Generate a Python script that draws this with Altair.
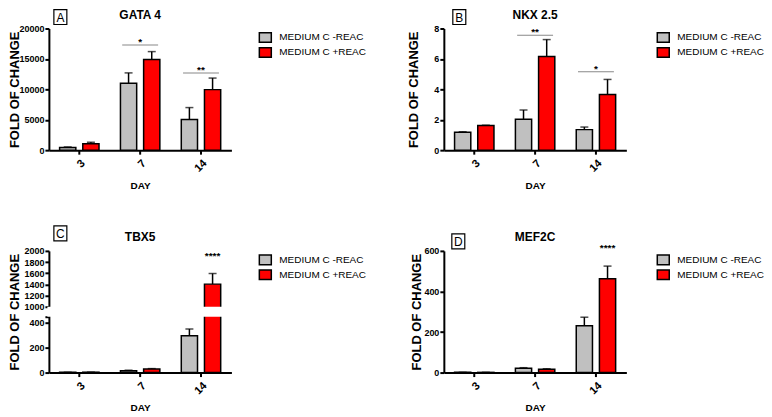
import pandas as pd
import altair as alt

GRAY = "#C0C0C0"
RED = "#FF0000"
INK = "#000000"
SIG = "#555555"
FONT = "Liberation Sans"
W, H = 183, 122

days = ["3", "7", "14"]
groups = ["MEDIUM C -REAC", "MEDIUM C +REAC"]

# A - GATA 4
gata4_minus = [450, 11000, 5050]
gata4_minus_sem = [80, 1700, 1950]
gata4_plus = [1050, 14900, 9950]
gata4_plus_sem = [250, 1300, 1900]
gata4_sig_days = ["7", "14"]
gata4_sig_y = [17300, 12700]
gata4_sig_text = ["*", "**"]

# B - NKX 2.5
nkx_minus = [1.18, 2.04, 1.35]
nkx_minus_sem = [0.03, 0.6, 0.17]
nkx_plus = [1.62, 6.15, 3.66]
nkx_plus_sem = [0.02, 1.12, 0.99]
nkx_sig_days = ["7", "14"]
nkx_sig_y = [7.56, 5.15]
nkx_sig_text = ["**", "*"]

# C - TBX5 (broken axis: 0-450 below, 1000-2000 above)
tbx5_minus = [2, 15, 296]
tbx5_minus_sem = [0.5, 4, 55]
tbx5_plus = [3, 28, 1405]
tbx5_plus_sem = [0.5, 4, 190]
tbx5_star_days = ["14"]
tbx5_star_y = [1860]
tbx5_star_text = ["****"]
tbx5_break = [450, 1000]

# D - MEF2C
mef2c_minus = [1, 21, 231]
mef2c_minus_sem = [0.3, 3, 42]
mef2c_plus = [1, 16, 463]
mef2c_plus_sem = [0.3, 3, 62]
mef2c_star_days = ["14"]
mef2c_star_y = [600]
mef2c_star_text = ["****"]


def bar_frame(minus, minus_sem, plus, plus_sem):
    rows = []
    for i, d in enumerate(days):
        rows.append({"day": d, "group": groups[0], "value": minus[i], "top": minus[i] + minus_sem[i]})
        rows.append({"day": d, "group": groups[1], "value": plus[i], "top": plus[i] + plus_sem[i]})
    return pd.DataFrame(rows)


def mark_frame(sig_days, sig_y, sig_text):
    return pd.DataFrame({"day": sig_days, "group": groups[1], "y": sig_y, "label": sig_text})


def panel(df, yscale, yaxis, legend_x, title, letter, letter_x, letter_y,
          lines=None, stars=None, gap=None):
    x = alt.X("day:N", sort=days, axis=alt.Axis(title="DAY"),
              scale=alt.Scale(domain=days, paddingInner=0.2, paddingOuter=0.1))
    xo = alt.XOffset("group:N", sort=groups,
                     scale=alt.Scale(domain=groups, paddingInner=0.3, paddingOuter=0.2))
    legend = alt.Legend(
        title=None, orient="none", legendX=legend_x, legendY=2, padding=0,
        symbolType="M-1,-0.8H1V0.8H-1Z", symbolSize=144,
        symbolStrokeColor=INK, symbolStrokeWidth=1.5,
        labelFont=FONT, labelFontSize=10, labelColor=INK, labelOffset=7, rowPadding=-2,
    )
    color = alt.Color("group:N", scale=alt.Scale(domain=groups, range=[GRAY, RED]), legend=legend)

    def y(field):
        return alt.Y(field, scale=yscale, axis=yaxis)

    bars = alt.Chart(df).mark_bar(stroke=INK, strokeWidth=1.5).encode(
        x=x, xOffset=xo, y=y("value:Q"), color=color)
    err = alt.Chart(df).mark_rule(color=INK, strokeWidth=1.5).encode(
        x=x, xOffset=xo, y=y("value:Q"), y2="top:Q")
    cap = alt.Chart(df).mark_tick(color=INK, size=8, thickness=1.5).encode(
        x=x, xOffset=xo, y=y("top:Q"))
    layers = [err, cap, bars]

    one = pd.DataFrame({"letter": [letter], "title": [title]})
    if gap is not None:
        # white band that cuts the bars and the axis at the break
        layers.append(alt.Chart(one).mark_rect(fill="white").encode(
            x=alt.value(-1.5), x2=alt.value(W), y=alt.datum(gap[0]), y2=alt.datum(gap[1])))
    if lines is not None:
        layers.append(alt.Chart(lines).mark_tick(color=SIG, size=36, thickness=1).encode(
            x=x, y=y("y:Q")))
        layers.append(alt.Chart(lines).mark_text(fontSize=10, fontWeight="bold", baseline="alphabetic",
                                                 color=INK).encode(
            x=x, y=y("y:Q"), text="label:N"))
    if stars is not None:
        layers.append(alt.Chart(stars).mark_text(fontSize=10, fontWeight="bold", baseline="alphabetic",
                                                 color=INK).encode(
            x=x, xOffset=xo, y=y("y:Q"), text="label:N"))

    layers.append(alt.Chart(one).mark_rect(fill="white", stroke=INK, strokeWidth=1.2).encode(
        x=alt.value(letter_x), x2=alt.value(letter_x + 13),
        y=alt.value(letter_y), y2=alt.value(letter_y + 15)))
    layers.append(alt.Chart(one).mark_text(fontSize=12, color=INK, baseline="middle").encode(
        x=alt.value(letter_x + 6.5), y=alt.value(letter_y + 8), text="letter:N"))
    layers.append(alt.Chart(one).mark_text(fontSize=12, fontWeight="bold", color=INK,
                                           baseline="middle").encode(
        x=alt.value(W / 2), y=alt.value(-14), text="title:N"))

    return alt.layer(*layers).properties(width=W, height=H)


def yaxis(values, title_x, label_expr=None):
    kw = dict(values=values, format="d", title="FOLD OF CHANGE", titleX=title_x,
              labelOverlap=False, tickCount=20)
    if label_expr is not None:
        kw["labelExpr"] = label_expr
    return alt.Axis(**kw)


panel_a = panel(
    bar_frame(gata4_minus, gata4_minus_sem, gata4_plus, gata4_plus_sem),
    alt.Scale(domain=[0, 20000], nice=False), yaxis([0, 5000, 10000, 15000, 20000], -30),
    210, "GATA 4", "A", 5, -19,
    lines=mark_frame(gata4_sig_days, gata4_sig_y, gata4_sig_text),
)
panel_b = panel(
    bar_frame(nkx_minus, nkx_minus_sem, nkx_plus, nkx_plus_sem),
    alt.Scale(domain=[0, 8], nice=False), yaxis([0, 2, 4, 6, 8], -26),
    213, "NKX 2.5", "B", 9, -19,
    lines=mark_frame(nkx_sig_days, nkx_sig_y, nkx_sig_text),
)
panel_c = panel(
    bar_frame(tbx5_minus, tbx5_minus_sem, tbx5_plus, tbx5_plus_sem),
    alt.Scale(domain=[0, tbx5_break[0], tbx5_break[1], 2000], range=[H, 66, 56, 0],
              nice=False, zero=False),
    yaxis([0, 200, 400, 450, 1000, 1200, 1400, 1600, 1800, 2000], -30,
          label_expr="datum.value == 450 ? '' : datum.label"),
    210, "TBX5", "C", 5, -25,
    stars=mark_frame(tbx5_star_days, tbx5_star_y, tbx5_star_text),
    gap=tbx5_break,
)
panel_d = panel(
    bar_frame(mef2c_minus, mef2c_minus_sem, mef2c_plus, mef2c_plus_sem),
    alt.Scale(domain=[0, 600], nice=False), yaxis([0, 200, 400, 600], -23),
    213, "MEF2C", "D", 8, -17,
    stars=mark_frame(mef2c_star_days, mef2c_star_y, mef2c_star_text),
)

chart = (
    alt.concat(panel_a, panel_b, panel_c, panel_d, columns=2,
               spacing={"row": 101, "column": 213}, bounds="flush")
    .resolve_scale(color="independent")
    .properties(padding=0)
    .configure(font=FONT)
    .configure_view(strokeWidth=0)
    .configure_axis(
        grid=False, domainColor=INK, domainWidth=2, tickColor=INK, tickWidth=2, tickSize=4,
        labelFont=FONT, labelFontSize=9, labelFontWeight="bold", labelColor=INK, labelPadding=1,
        titleFont=FONT, titleColor=INK, titleFontWeight="bold",
    )
    .configure_axisY(titleFontSize=13, titleBaseline="alphabetic")
    .configure_axisX(labelAngle=-45, labelPadding=3, labelFontSize=11, titleFontSize=10,
                     titleY=35, titleBaseline="middle")
)

chart.save("out.html", embed_options={"renderer": "svg", "actions": False})
